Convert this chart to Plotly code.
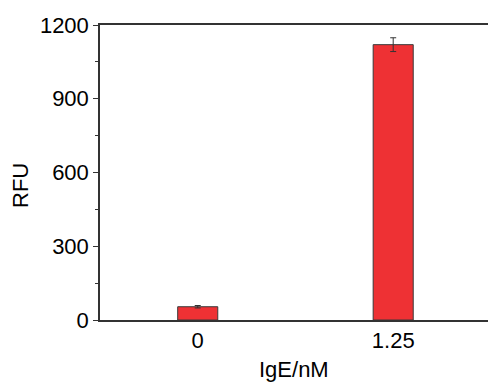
import plotly.graph_objects as go

categories = ["0", "1.25"]
values = [54, 1120]
errors = [5, 28]
y_ticks = [0, 300, 600, 900, 1200]

fig = go.Figure()
fig.add_trace(go.Bar(
    x=categories, y=values,
    width=0.205,
    marker=dict(color="#EE3134", line=dict(color="#3a3a3a", width=1)),
    error_y=dict(type="data", array=errors, color="#333333", thickness=1, width=3),
))

font_fam = "Liberation Sans, Arial, sans-serif"
fig.update_layout(
    width=488, height=383,
    margin=dict(l=100, r=0, t=25, b=63),
    paper_bgcolor="white", plot_bgcolor="white",
    showlegend=False,
    font=dict(family=font_fam, size=22, color="black"),
    xaxis=dict(
        type="category", range=[-0.5, 1.485],
        showline=True, linecolor="#333333", linewidth=1.5, mirror=True,
        ticks="", showgrid=False, tickfont=dict(size=22),
    ),
    yaxis=dict(
        range=[0, 1200], tickvals=y_ticks,
        showline=True, linecolor="#333333", linewidth=1.5,
        ticks="outside", ticklen=5, tickcolor="#333333", tickwidth=1,
        minor=dict(dtick=150, ticks="outside", ticklen=3, tickcolor="#333333"),
        showgrid=False, zeroline=False, tickfont=dict(size=22),
    ),
    annotations=[
        dict(text="IgE/nM", xref="paper", yref="paper", x=0.5, y=-0.2136,
             yanchor="bottom", xanchor="center", showarrow=False, font=dict(size=22),
             borderpad=0),
        dict(text="RFU", xref="paper", yref="paper", x=-0.203, y=0.455,
             xanchor="center", yanchor="middle", textangle=-90, showarrow=False, font=dict(size=22)),
    ],
)

fig.write_html("out.html")
